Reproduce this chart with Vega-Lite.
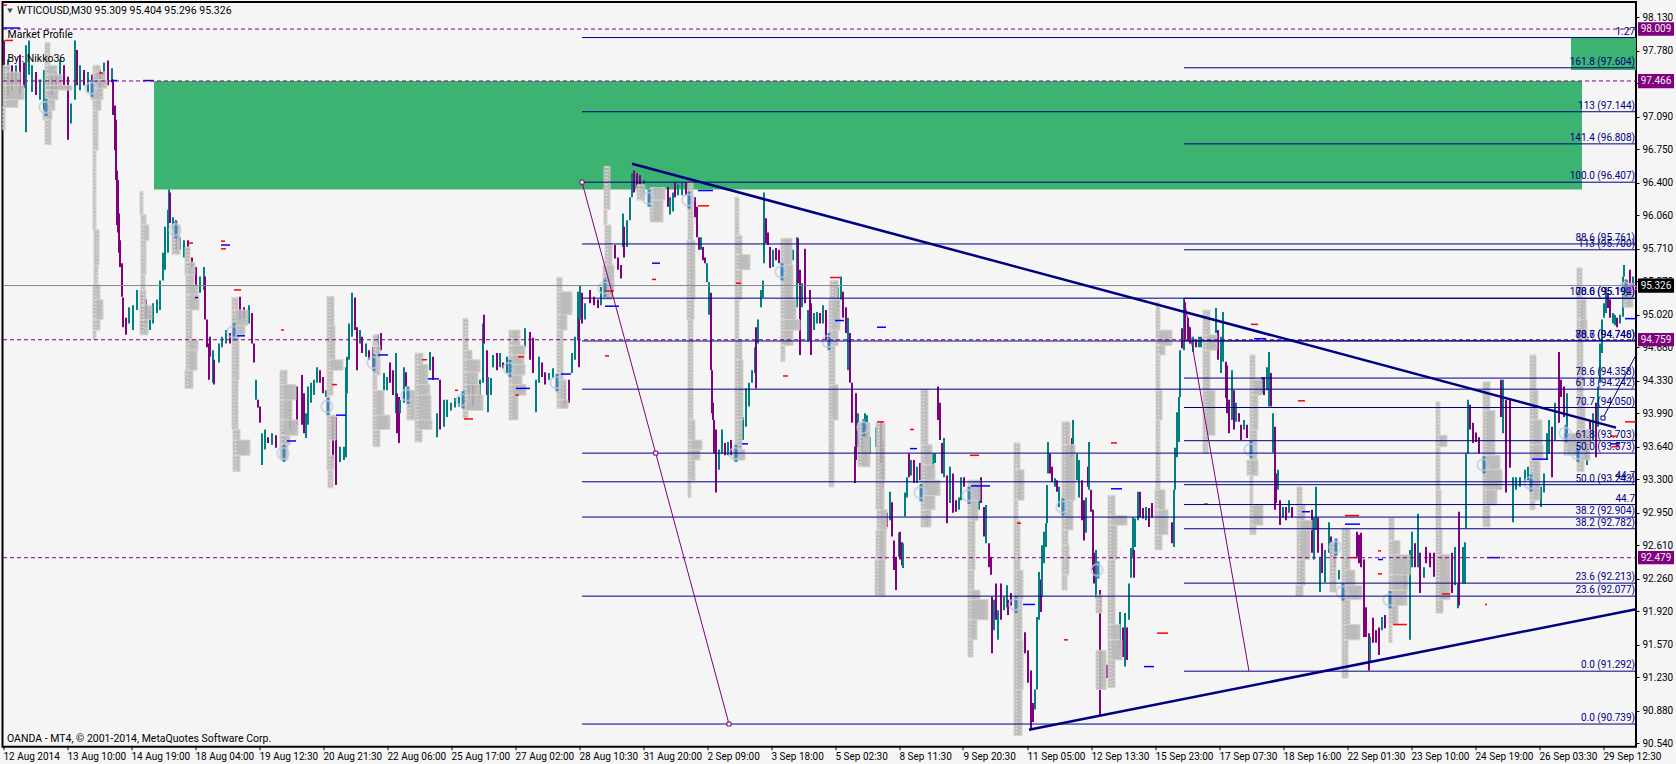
{"$schema":"https://vega.github.io/schema/vega-lite/v6.json","width":1633.5,"height":744.7,"autosize":{"type":"none"},"padding":{"left":2.5,"top":2,"right":40,"bottom":17.3},"background":"#f5f5f5","view":{"stroke":"#000000","strokeWidth":2,"fill":"#f5f5f5"},
"datasets":{
"zones":[{"x":154,"x2":1582,"p":97.466,"p2":96.33},{"x":1571,"x2":1636,"p":97.918,"p2":97.58}],
"candles":[{"x":4,"p":97.89,"p2":97.48,"d":"P"},{"x":8,"p":97.69,"p2":97.32,"d":"T"},{"x":12,"p":97.63,"p2":97.37,"d":"P"},{"x":16,"p":97.63,"p2":97.42,"d":"T"},{"x":20,"p":97.74,"p2":97.32,"d":"P"},{"x":24,"p":97.66,"p2":97.39,"d":"P"},{"x":26,"p":97.84,"p2":96.93,"d":"T"},{"x":29,"p":97.89,"p2":97.53,"d":"T"},{"x":32,"p":97.63,"p2":97.35,"d":"T"},{"x":36,"p":97.56,"p2":97.32,"d":"P"},{"x":40,"p":97.48,"p2":97.27,"d":"T"},{"x":44,"p":97.58,"p2":97.16,"d":"T"},{"x":48,"p":97.58,"p2":97.32,"d":"T"},{"x":52,"p":97.53,"p2":97.32,"d":"P"},{"x":56,"p":97.56,"p2":97.37,"d":"P"},{"x":60,"p":97.69,"p2":97.42,"d":"T"},{"x":64,"p":97.63,"p2":97.42,"d":"P"},{"x":68,"p":97.51,"p2":96.85,"d":"P"},{"x":71,"p":97.23,"p2":97.02,"d":"T"},{"x":75,"p":97.89,"p2":97.27,"d":"T"},{"x":77,"p":97.79,"p2":97.42,"d":"P"},{"x":80,"p":97.63,"p2":97.37,"d":"T"},{"x":84,"p":97.58,"p2":97.42,"d":"P"},{"x":88,"p":97.56,"p2":97.35,"d":"T"},{"x":92,"p":97.53,"p2":97.32,"d":"P"},{"x":96,"p":97.56,"p2":97.42,"d":"T"},{"x":100,"p":97.58,"p2":97.37,"d":"P"},{"x":104,"p":97.66,"p2":97.45,"d":"T"},{"x":108,"p":97.68,"p2":97.42,"d":"P"},{"x":112,"p":97.6,"p2":97.45,"d":"T"},{"x":113,"p":97.48,"p2":97.11,"d":"P"},{"x":115,"p":97.21,"p2":96.74,"d":"P"},{"x":116,"p":97.06,"p2":96.43,"d":"P"},{"x":117,"p":96.53,"p2":95.96,"d":"P"},{"x":118,"p":96.43,"p2":95.88,"d":"P"},{"x":119,"p":96.08,"p2":95.67,"d":"P"},{"x":120,"p":95.8,"p2":95.52,"d":"P"},{"x":122,"p":95.56,"p2":95.21,"d":"P"},{"x":123,"p":95.2,"p2":94.89,"d":"P"},{"x":126,"p":94.99,"p2":94.81,"d":"P"},{"x":129,"p":95.1,"p2":94.93,"d":"T"},{"x":133,"p":95.12,"p2":94.86,"d":"T"},{"x":137,"p":95.28,"p2":95.07,"d":"T"},{"x":142,"p":95.23,"p2":94.86,"d":"P"},{"x":146,"p":95.18,"p2":94.91,"d":"P"},{"x":150,"p":95.07,"p2":94.86,"d":"T"},{"x":153,"p":95.14,"p2":94.93,"d":"T"},{"x":157,"p":95.18,"p2":95.04,"d":"T"},{"x":160,"p":95.38,"p2":95.07,"d":"T"},{"x":163,"p":95.67,"p2":95.38,"d":"T"},{"x":165,"p":95.94,"p2":95.49,"d":"T"},{"x":168,"p":96.12,"p2":95.67,"d":"T"},{"x":169,"p":96.33,"p2":96.01,"d":"T"},{"x":170,"p":96.3,"p2":95.98,"d":"P"},{"x":173,"p":96.04,"p2":95.91,"d":"T"},{"x":176,"p":96.01,"p2":95.7,"d":"P"},{"x":180,"p":95.83,"p2":95.7,"d":"T"},{"x":184,"p":95.8,"p2":95.62,"d":"T"},{"x":188,"p":95.8,"p2":95.54,"d":"P"},{"x":192,"p":95.62,"p2":95.52,"d":"P"},{"x":196,"p":95.52,"p2":95.31,"d":"P"},{"x":200,"p":95.42,"p2":95.25,"d":"T"},{"x":204,"p":95.52,"p2":95.28,"d":"T"},{"x":205,"p":95.42,"p2":94.97,"d":"P"},{"x":207,"p":94.97,"p2":94.68,"d":"P"},{"x":209,"p":94.72,"p2":94.34,"d":"P"},{"x":210,"p":94.79,"p2":94.58,"d":"P"},{"x":213,"p":94.65,"p2":94.31,"d":"T"},{"x":214,"p":94.55,"p2":94.29,"d":"P"},{"x":219,"p":94.72,"p2":94.52,"d":"T"},{"x":222,"p":94.79,"p2":94.68,"d":"T"},{"x":226,"p":94.86,"p2":94.72,"d":"T"},{"x":230,"p":94.83,"p2":94.72,"d":"P"},{"x":234,"p":94.99,"p2":94.79,"d":"T"},{"x":240,"p":95.21,"p2":94.97,"d":"P"},{"x":244,"p":95.1,"p2":94.99,"d":"P"},{"x":249,"p":95.12,"p2":94.93,"d":"T"},{"x":252,"p":95.04,"p2":94.72,"d":"P"},{"x":254,"p":94.72,"p2":94.52,"d":"P"},{"x":256,"p":94.34,"p2":94.13,"d":"T"},{"x":258,"p":94.13,"p2":94.05,"d":"P"},{"x":260,"p":94.06,"p2":93.89,"d":"P"},{"x":262,"p":93.78,"p2":93.45,"d":"T"},{"x":265,"p":93.82,"p2":93.61,"d":"T"},{"x":268,"p":93.74,"p2":93.68,"d":"P"},{"x":272,"p":93.78,"p2":93.66,"d":"T"},{"x":276,"p":93.76,"p2":93.63,"d":"P"},{"x":283,"p":93.82,"p2":93.61,"d":"T"},{"x":290,"p":94.13,"p2":93.82,"d":"T"},{"x":297,"p":94.27,"p2":93.87,"d":"P"},{"x":302,"p":94.39,"p2":93.87,"d":"P"},{"x":304,"p":94.2,"p2":93.78,"d":"P"},{"x":306,"p":93.99,"p2":93.73,"d":"T"},{"x":308,"p":94.27,"p2":93.87,"d":"T"},{"x":311,"p":94.31,"p2":94.1,"d":"T"},{"x":314,"p":94.34,"p2":94.18,"d":"T"},{"x":317,"p":94.47,"p2":94.31,"d":"T"},{"x":320,"p":94.44,"p2":94.31,"d":"P"},{"x":323,"p":94.37,"p2":94.2,"d":"P"},{"x":326,"p":94.23,"p2":94.16,"d":"T"},{"x":333,"p":93.95,"p2":93.5,"d":"P"},{"x":336,"p":93.95,"p2":93.24,"d":"P"},{"x":340,"p":93.64,"p2":93.48,"d":"T"},{"x":344,"p":93.64,"p2":93.5,"d":"T"},{"x":346,"p":94.47,"p2":93.53,"d":"T"},{"x":347,"p":94.58,"p2":94.2,"d":"T"},{"x":349,"p":94.93,"p2":94.55,"d":"T"},{"x":352,"p":95.25,"p2":94.79,"d":"T"},{"x":355,"p":95.2,"p2":94.86,"d":"P"},{"x":357,"p":94.89,"p2":94.44,"d":"P"},{"x":360,"p":94.86,"p2":94.72,"d":"T"},{"x":362,"p":94.79,"p2":94.62,"d":"P"},{"x":366,"p":94.72,"p2":94.58,"d":"T"},{"x":369,"p":94.65,"p2":94.55,"d":"P"},{"x":373,"p":94.68,"p2":94.47,"d":"P"},{"x":378,"p":94.81,"p2":94.58,"d":"T"},{"x":381,"p":94.83,"p2":94.65,"d":"P"},{"x":384,"p":94.41,"p2":94.23,"d":"T"},{"x":387,"p":94.37,"p2":94.23,"d":"T"},{"x":390,"p":94.52,"p2":94.31,"d":"P"},{"x":393,"p":94.44,"p2":94.18,"d":"P"},{"x":396,"p":94.62,"p2":93.99,"d":"T"},{"x":397,"p":94.2,"p2":93.78,"d":"P"},{"x":399,"p":94.16,"p2":93.68,"d":"P"},{"x":400,"p":94.13,"p2":93.99,"d":"T"},{"x":404,"p":94.47,"p2":94.1,"d":"T"},{"x":406,"p":94.42,"p2":94.27,"d":"P"},{"x":409,"p":94.16,"p2":94.06,"d":"T"},{"x":430,"p":94.63,"p2":94.44,"d":"T"},{"x":433,"p":94.58,"p2":94.34,"d":"P"},{"x":437,"p":93.99,"p2":93.74,"d":"T"},{"x":440,"p":94.34,"p2":93.82,"d":"P"},{"x":444,"p":94.13,"p2":93.85,"d":"T"},{"x":447,"p":94.13,"p2":93.95,"d":"T"},{"x":451,"p":94.1,"p2":94.02,"d":"T"},{"x":455,"p":94.15,"p2":94.05,"d":"T"},{"x":459,"p":94.16,"p2":94.06,"d":"T"},{"x":464,"p":94.23,"p2":94.1,"d":"T"},{"x":469,"p":94.31,"p2":94.16,"d":"T"},{"x":473,"p":94.29,"p2":94.06,"d":"P"},{"x":480,"p":94.34,"p2":94.16,"d":"T"},{"x":483,"p":94.93,"p2":94.31,"d":"T"},{"x":484,"p":95.02,"p2":94.72,"d":"P"},{"x":487,"p":94.65,"p2":94.18,"d":"P"},{"x":488,"p":94.37,"p2":94.0,"d":"T"},{"x":491,"p":94.36,"p2":94.18,"d":"T"},{"x":493,"p":94.6,"p2":94.47,"d":"T"},{"x":497,"p":94.62,"p2":94.44,"d":"P"},{"x":500,"p":94.62,"p2":94.47,"d":"T"},{"x":503,"p":94.52,"p2":94.46,"d":"P"},{"x":507,"p":94.58,"p2":94.41,"d":"T"},{"x":525,"p":94.88,"p2":94.68,"d":"T"},{"x":530,"p":94.84,"p2":94.55,"d":"P"},{"x":533,"p":94.78,"p2":94.41,"d":"P"},{"x":536,"p":94.34,"p2":94.0,"d":"T"},{"x":539,"p":94.58,"p2":94.31,"d":"T"},{"x":542,"p":94.52,"p2":94.37,"d":"P"},{"x":545,"p":94.42,"p2":94.29,"d":"P"},{"x":549,"p":94.41,"p2":94.34,"d":"T"},{"x":553,"p":94.46,"p2":94.36,"d":"T"},{"x":565,"p":94.31,"p2":94.08,"d":"P"},{"x":569,"p":94.34,"p2":94.1,"d":"P"},{"x":572,"p":94.62,"p2":94.41,"d":"T"},{"x":575,"p":94.79,"p2":94.55,"d":"T"},{"x":578,"p":95.26,"p2":94.76,"d":"T"},{"x":579,"p":94.99,"p2":94.47,"d":"P"},{"x":580,"p":95.33,"p2":94.97,"d":"T"},{"x":582,"p":95.25,"p2":94.93,"d":"P"},{"x":585,"p":95.14,"p2":94.97,"d":"T"},{"x":590,"p":95.28,"p2":95.14,"d":"P"},{"x":594,"p":95.21,"p2":95.12,"d":"P"},{"x":598,"p":95.18,"p2":95.09,"d":"P"},{"x":601,"p":95.31,"p2":95.12,"d":"T"},{"x":606,"p":95.42,"p2":95.28,"d":"T"},{"x":612,"p":95.33,"p2":95.21,"d":"P"},{"x":615,"p":95.75,"p2":95.61,"d":"P"},{"x":618,"p":95.62,"p2":95.49,"d":"P"},{"x":621,"p":95.54,"p2":95.4,"d":"P"},{"x":623,"p":96.08,"p2":95.73,"d":"T"},{"x":624,"p":95.94,"p2":95.62,"d":"P"},{"x":627,"p":96.01,"p2":95.73,"d":"T"},{"x":630,"p":96.25,"p2":96.01,"d":"T"},{"x":632,"p":96.5,"p2":96.25,"d":"T"},{"x":634,"p":96.53,"p2":96.3,"d":"P"},{"x":637,"p":96.5,"p2":96.36,"d":"P"},{"x":640,"p":96.48,"p2":96.33,"d":"P"},{"x":644,"p":96.43,"p2":96.27,"d":"T"},{"x":668,"p":96.36,"p2":96.15,"d":"P"},{"x":670,"p":96.25,"p2":96.07,"d":"T"},{"x":673,"p":96.3,"p2":96.1,"d":"T"},{"x":675,"p":96.4,"p2":96.25,"d":"P"},{"x":678,"p":96.38,"p2":96.27,"d":"T"},{"x":682,"p":96.4,"p2":96.27,"d":"T"},{"x":686,"p":96.4,"p2":96.27,"d":"P"},{"x":695,"p":96.25,"p2":96.04,"d":"P"},{"x":697,"p":96.15,"p2":95.83,"d":"P"},{"x":699,"p":95.83,"p2":95.7,"d":"P"},{"x":701,"p":95.83,"p2":95.7,"d":"T"},{"x":703,"p":95.73,"p2":95.59,"d":"P"},{"x":705,"p":95.62,"p2":95.56,"d":"P"},{"x":707,"p":95.56,"p2":95.36,"d":"T"},{"x":709,"p":95.36,"p2":95.02,"d":"T"},{"x":711,"p":95.25,"p2":94.44,"d":"P"},{"x":712,"p":94.44,"p2":93.99,"d":"P"},{"x":713,"p":94.1,"p2":93.92,"d":"P"},{"x":714,"p":93.92,"p2":93.57,"d":"P"},{"x":716,"p":93.82,"p2":93.16,"d":"P"},{"x":719,"p":93.61,"p2":93.4,"d":"T"},{"x":722,"p":93.82,"p2":93.57,"d":"T"},{"x":725,"p":93.68,"p2":93.55,"d":"P"},{"x":728,"p":93.69,"p2":93.55,"d":"T"},{"x":731,"p":93.71,"p2":93.55,"d":"P"},{"x":740,"p":93.79,"p2":93.61,"d":"T"},{"x":743,"p":93.95,"p2":93.71,"d":"T"},{"x":746,"p":94.25,"p2":93.85,"d":"T"},{"x":749,"p":94.31,"p2":94.06,"d":"T"},{"x":752,"p":94.44,"p2":94.31,"d":"T"},{"x":755,"p":94.68,"p2":94.41,"d":"T"},{"x":756,"p":94.89,"p2":94.25,"d":"P"},{"x":758,"p":94.97,"p2":94.72,"d":"T"},{"x":761,"p":95.28,"p2":95.1,"d":"T"},{"x":763,"p":95.38,"p2":95.2,"d":"T"},{"x":764,"p":96.3,"p2":95.56,"d":"T"},{"x":766,"p":96.03,"p2":95.77,"d":"P"},{"x":768,"p":95.88,"p2":95.75,"d":"P"},{"x":770,"p":95.73,"p2":95.51,"d":"P"},{"x":773,"p":95.7,"p2":95.52,"d":"T"},{"x":776,"p":95.72,"p2":95.59,"d":"P"},{"x":779,"p":95.7,"p2":95.56,"d":"P"},{"x":793,"p":95.7,"p2":95.59,"d":"T"},{"x":797,"p":95.83,"p2":95.1,"d":"T"},{"x":798,"p":95.82,"p2":95.35,"d":"P"},{"x":800,"p":95.49,"p2":94.6,"d":"P"},{"x":802,"p":95.35,"p2":95.1,"d":"T"},{"x":805,"p":95.71,"p2":95.14,"d":"P"},{"x":808,"p":95.07,"p2":94.74,"d":"T"},{"x":810,"p":95.28,"p2":94.76,"d":"P"},{"x":811,"p":95.14,"p2":94.6,"d":"P"},{"x":814,"p":95.04,"p2":94.86,"d":"T"},{"x":817,"p":95.05,"p2":94.93,"d":"T"},{"x":820,"p":95.04,"p2":94.93,"d":"P"},{"x":823,"p":95.12,"p2":94.93,"d":"T"},{"x":826,"p":95.07,"p2":94.76,"d":"P"},{"x":838,"p":95.31,"p2":95.04,"d":"T"},{"x":841,"p":95.42,"p2":95.18,"d":"T"},{"x":843,"p":95.26,"p2":94.99,"d":"P"},{"x":846,"p":95.1,"p2":94.83,"d":"P"},{"x":848,"p":94.99,"p2":94.44,"d":"T"},{"x":850,"p":94.83,"p2":94.31,"d":"P"},{"x":852,"p":94.31,"p2":93.89,"d":"P"},{"x":855,"p":93.64,"p2":93.26,"d":"P"},{"x":856,"p":94.2,"p2":93.5,"d":"P"},{"x":858,"p":93.99,"p2":93.64,"d":"T"},{"x":862,"p":93.89,"p2":93.57,"d":"T"},{"x":865,"p":93.99,"p2":93.82,"d":"T"},{"x":867,"p":93.97,"p2":93.74,"d":"T"},{"x":870,"p":93.74,"p2":93.57,"d":"T"},{"x":876,"p":93.84,"p2":93.64,"d":"T"},{"x":881,"p":93.9,"p2":93.47,"d":"P"},{"x":883,"p":93.69,"p2":93.22,"d":"P"},{"x":887,"p":92.95,"p2":92.8,"d":"P"},{"x":890,"p":93.17,"p2":92.87,"d":"T"},{"x":892,"p":93.06,"p2":92.7,"d":"P"},{"x":894,"p":92.66,"p2":92.35,"d":"P"},{"x":896,"p":92.49,"p2":92.14,"d":"P"},{"x":899,"p":92.74,"p2":92.49,"d":"T"},{"x":900,"p":92.75,"p2":92.46,"d":"P"},{"x":902,"p":92.64,"p2":92.4,"d":"P"},{"x":903,"p":92.63,"p2":92.37,"d":"T"},{"x":905,"p":93.16,"p2":92.91,"d":"T"},{"x":907,"p":93.32,"p2":93.11,"d":"T"},{"x":909,"p":93.57,"p2":93.32,"d":"P"},{"x":911,"p":93.5,"p2":93.34,"d":"T"},{"x":914,"p":93.5,"p2":93.26,"d":"P"},{"x":917,"p":93.43,"p2":93.26,"d":"T"},{"x":920,"p":93.47,"p2":93.29,"d":"P"},{"x":933,"p":93.57,"p2":93.43,"d":"T"},{"x":935,"p":93.57,"p2":93.47,"d":"T"},{"x":938,"p":94.27,"p2":93.92,"d":"P"},{"x":940,"p":94.1,"p2":93.71,"d":"P"},{"x":942,"p":93.68,"p2":93.36,"d":"P"},{"x":944,"p":93.73,"p2":93.32,"d":"T"},{"x":947,"p":93.34,"p2":92.84,"d":"P"},{"x":950,"p":93.43,"p2":93.05,"d":"T"},{"x":953,"p":93.36,"p2":92.95,"d":"P"},{"x":956,"p":93.08,"p2":92.96,"d":"P"},{"x":959,"p":93.11,"p2":92.98,"d":"T"},{"x":961,"p":93.32,"p2":93.08,"d":"T"},{"x":964,"p":93.32,"p2":93.22,"d":"P"},{"x":979,"p":93.22,"p2":92.98,"d":"T"},{"x":981,"p":93.32,"p2":93.05,"d":"P"},{"x":984,"p":93.01,"p2":92.7,"d":"P"},{"x":986,"p":93.03,"p2":92.63,"d":"T"},{"x":989,"p":92.63,"p2":92.38,"d":"P"},{"x":991,"p":92.49,"p2":92.3,"d":"P"},{"x":992,"p":92.07,"p2":91.48,"d":"P"},{"x":994,"p":92.04,"p2":91.72,"d":"T"},{"x":996,"p":92.21,"p2":91.83,"d":"P"},{"x":998,"p":91.93,"p2":91.62,"d":"T"},{"x":1001,"p":92.21,"p2":91.83,"d":"P"},{"x":1004,"p":92.07,"p2":91.93,"d":"T"},{"x":1007,"p":92.19,"p2":91.96,"d":"T"},{"x":1008,"p":92.04,"p2":91.88,"d":"P"},{"x":1011,"p":92.11,"p2":91.98,"d":"P"},{"x":1025,"p":91.7,"p2":91.48,"d":"P"},{"x":1028,"p":91.51,"p2":91.17,"d":"P"},{"x":1031,"p":91.3,"p2":90.68,"d":"P"},{"x":1033,"p":90.96,"p2":90.76,"d":"P"},{"x":1035,"p":91.1,"p2":90.89,"d":"T"},{"x":1037,"p":91.86,"p2":91.1,"d":"T"},{"x":1039,"p":92.33,"p2":91.83,"d":"T"},{"x":1041,"p":92.25,"p2":91.91,"d":"P"},{"x":1042,"p":92.61,"p2":92.07,"d":"T"},{"x":1044,"p":92.75,"p2":92.42,"d":"T"},{"x":1046,"p":92.84,"p2":92.59,"d":"T"},{"x":1047,"p":93.24,"p2":92.84,"d":"T"},{"x":1048,"p":93.69,"p2":93.36,"d":"T"},{"x":1050,"p":93.57,"p2":93.36,"d":"P"},{"x":1052,"p":93.43,"p2":93.27,"d":"P"},{"x":1055,"p":93.31,"p2":93.22,"d":"T"},{"x":1057,"p":93.29,"p2":93.17,"d":"P"},{"x":1059,"p":93.22,"p2":93.01,"d":"T"},{"x":1072,"p":93.73,"p2":93.53,"d":"P"},{"x":1073,"p":93.92,"p2":93.57,"d":"T"},{"x":1077,"p":93.57,"p2":93.29,"d":"T"},{"x":1079,"p":93.5,"p2":93.11,"d":"T"},{"x":1082,"p":93.29,"p2":92.87,"d":"P"},{"x":1084,"p":93.08,"p2":92.66,"d":"P"},{"x":1086,"p":93.11,"p2":92.74,"d":"T"},{"x":1088,"p":93.43,"p2":93.22,"d":"P"},{"x":1089,"p":93.69,"p2":93.19,"d":"T"},{"x":1091,"p":93.19,"p2":92.96,"d":"P"},{"x":1093,"p":92.98,"p2":92.35,"d":"P"},{"x":1094,"p":92.53,"p2":92.21,"d":"P"},{"x":1096,"p":92.56,"p2":92.06,"d":"T"},{"x":1100,"p":92.14,"p2":90.83,"d":"P"},{"x":1107,"p":91.36,"p2":91.22,"d":"P"},{"x":1120,"p":91.91,"p2":91.51,"d":"T"},{"x":1123,"p":91.75,"p2":91.44,"d":"P"},{"x":1125,"p":91.9,"p2":91.34,"d":"T"},{"x":1127,"p":91.75,"p2":91.41,"d":"P"},{"x":1129,"p":92.21,"p2":91.83,"d":"T"},{"x":1131,"p":92.58,"p2":92.27,"d":"T"},{"x":1133,"p":92.9,"p2":92.49,"d":"T"},{"x":1134,"p":92.56,"p2":92.27,"d":"P"},{"x":1135,"p":92.89,"p2":92.59,"d":"T"},{"x":1138,"p":93.17,"p2":92.87,"d":"T"},{"x":1140,"p":93.17,"p2":92.9,"d":"P"},{"x":1143,"p":93.0,"p2":92.89,"d":"P"},{"x":1146,"p":93.01,"p2":92.87,"d":"T"},{"x":1149,"p":93.0,"p2":92.8,"d":"P"},{"x":1152,"p":93.05,"p2":92.9,"d":"P"},{"x":1172,"p":92.85,"p2":92.63,"d":"P"},{"x":1174,"p":93.19,"p2":92.59,"d":"T"},{"x":1175,"p":93.63,"p2":93.19,"d":"T"},{"x":1177,"p":94.0,"p2":93.53,"d":"T"},{"x":1179,"p":94.16,"p2":93.69,"d":"T"},{"x":1180,"p":94.65,"p2":94.16,"d":"T"},{"x":1182,"p":94.88,"p2":94.67,"d":"P"},{"x":1184,"p":95.19,"p2":94.65,"d":"T"},{"x":1185,"p":95.15,"p2":94.76,"d":"P"},{"x":1188,"p":94.99,"p2":94.76,"d":"P"},{"x":1190,"p":94.89,"p2":94.72,"d":"P"},{"x":1193,"p":94.79,"p2":94.63,"d":"T"},{"x":1196,"p":94.76,"p2":94.68,"d":"P"},{"x":1199,"p":94.79,"p2":94.68,"d":"T"},{"x":1201,"p":94.79,"p2":94.68,"d":"T"},{"x":1216,"p":95.09,"p2":94.83,"d":"T"},{"x":1218,"p":94.86,"p2":94.55,"d":"P"},{"x":1221,"p":94.79,"p2":94.41,"d":"T"},{"x":1223,"p":95.05,"p2":94.53,"d":"T"},{"x":1226,"p":94.53,"p2":94.15,"d":"P"},{"x":1227,"p":94.49,"p2":93.99,"d":"P"},{"x":1229,"p":94.13,"p2":93.78,"d":"P"},{"x":1232,"p":94.44,"p2":93.92,"d":"T"},{"x":1234,"p":94.23,"p2":93.82,"d":"P"},{"x":1236,"p":94.1,"p2":93.9,"d":"T"},{"x":1239,"p":93.99,"p2":93.9,"d":"P"},{"x":1241,"p":93.87,"p2":93.71,"d":"P"},{"x":1244,"p":93.92,"p2":93.82,"d":"T"},{"x":1247,"p":93.87,"p2":93.73,"d":"P"},{"x":1262,"p":94.37,"p2":94.2,"d":"T"},{"x":1264,"p":94.37,"p2":94.18,"d":"P"},{"x":1267,"p":94.47,"p2":94.23,"d":"T"},{"x":1269,"p":94.63,"p2":94.06,"d":"T"},{"x":1271,"p":94.41,"p2":94.06,"d":"P"},{"x":1273,"p":93.99,"p2":93.58,"d":"T"},{"x":1275,"p":93.85,"p2":92.98,"d":"P"},{"x":1276,"p":93.36,"p2":93.05,"d":"P"},{"x":1278,"p":93.4,"p2":93.19,"d":"T"},{"x":1280,"p":93.08,"p2":92.82,"d":"P"},{"x":1283,"p":93.01,"p2":92.9,"d":"T"},{"x":1286,"p":93.01,"p2":92.87,"d":"P"},{"x":1289,"p":93.08,"p2":92.95,"d":"T"},{"x":1292,"p":93.01,"p2":92.9,"d":"P"},{"x":1312,"p":92.98,"p2":92.53,"d":"P"},{"x":1314,"p":92.9,"p2":92.46,"d":"T"},{"x":1316,"p":93.22,"p2":92.77,"d":"T"},{"x":1318,"p":92.9,"p2":92.53,"d":"P"},{"x":1320,"p":92.49,"p2":92.12,"d":"T"},{"x":1322,"p":92.63,"p2":92.32,"d":"P"},{"x":1325,"p":92.56,"p2":92.22,"d":"T"},{"x":1329,"p":92.85,"p2":92.53,"d":"T"},{"x":1331,"p":92.7,"p2":92.49,"d":"P"},{"x":1335,"p":92.53,"p2":92.38,"d":"P"},{"x":1339,"p":92.35,"p2":92.25,"d":"T"},{"x":1357,"p":92.75,"p2":92.49,"d":"P"},{"x":1359,"p":92.72,"p2":92.42,"d":"P"},{"x":1361,"p":92.74,"p2":92.38,"d":"P"},{"x":1364,"p":92.46,"p2":91.65,"d":"P"},{"x":1366,"p":91.96,"p2":91.65,"d":"P"},{"x":1369,"p":91.69,"p2":91.3,"d":"P"},{"x":1370,"p":91.65,"p2":91.38,"d":"T"},{"x":1373,"p":91.85,"p2":91.59,"d":"P"},{"x":1376,"p":91.72,"p2":91.59,"d":"P"},{"x":1379,"p":91.75,"p2":91.46,"d":"P"},{"x":1382,"p":91.86,"p2":91.72,"d":"T"},{"x":1385,"p":91.88,"p2":91.74,"d":"P"},{"x":1405,"p":92.32,"p2":92.11,"d":"T"},{"x":1410,"p":92.56,"p2":91.62,"d":"T"},{"x":1412,"p":92.75,"p2":92.38,"d":"T"},{"x":1415,"p":92.63,"p2":92.38,"d":"P"},{"x":1418,"p":92.94,"p2":92.38,"d":"T"},{"x":1420,"p":92.53,"p2":92.11,"d":"P"},{"x":1424,"p":92.38,"p2":92.27,"d":"T"},{"x":1426,"p":92.59,"p2":92.42,"d":"P"},{"x":1430,"p":92.53,"p2":92.38,"d":"P"},{"x":1434,"p":92.53,"p2":92.28,"d":"P"},{"x":1452,"p":92.53,"p2":92.11,"d":"P"},{"x":1455,"p":92.59,"p2":92.19,"d":"T"},{"x":1458,"p":92.21,"p2":91.95,"d":"T"},{"x":1459,"p":92.96,"p2":91.98,"d":"P"},{"x":1463,"p":92.59,"p2":92.21,"d":"T"},{"x":1465,"p":92.64,"p2":92.21,"d":"T"},{"x":1466,"p":93.57,"p2":92.79,"d":"T"},{"x":1468,"p":94.13,"p2":93.57,"d":"T"},{"x":1470,"p":94.08,"p2":93.82,"d":"P"},{"x":1473,"p":93.89,"p2":93.68,"d":"P"},{"x":1476,"p":93.79,"p2":93.69,"d":"P"},{"x":1479,"p":93.74,"p2":93.57,"d":"P"},{"x":1501,"p":94.34,"p2":93.95,"d":"P"},{"x":1503,"p":94.34,"p2":93.78,"d":"T"},{"x":1506,"p":94.13,"p2":93.16,"d":"P"},{"x":1510,"p":94.13,"p2":93.42,"d":"P"},{"x":1513,"p":93.32,"p2":92.85,"d":"T"},{"x":1516,"p":93.32,"p2":93.19,"d":"T"},{"x":1520,"p":93.32,"p2":93.22,"d":"T"},{"x":1525,"p":93.4,"p2":93.27,"d":"T"},{"x":1528,"p":93.43,"p2":93.29,"d":"T"},{"x":1541,"p":93.22,"p2":93.01,"d":"T"},{"x":1544,"p":93.36,"p2":93.16,"d":"T"},{"x":1547,"p":93.78,"p2":93.5,"d":"T"},{"x":1549,"p":93.92,"p2":93.57,"d":"T"},{"x":1552,"p":93.85,"p2":93.32,"d":"P"},{"x":1555,"p":94.1,"p2":93.71,"d":"T"},{"x":1559,"p":94.63,"p2":93.89,"d":"P"},{"x":1561,"p":94.34,"p2":94.16,"d":"P"},{"x":1564,"p":94.27,"p2":93.95,"d":"P"},{"x":1567,"p":94.2,"p2":93.68,"d":"T"},{"x":1587,"p":93.68,"p2":93.45,"d":"T"},{"x":1590,"p":93.92,"p2":93.68,"d":"P"},{"x":1593,"p":93.99,"p2":93.71,"d":"T"},{"x":1596,"p":94.1,"p2":93.53,"d":"P"},{"x":1598,"p":94.27,"p2":93.85,"d":"T"},{"x":1600,"p":94.72,"p2":94.31,"d":"T"},{"x":1602,"p":94.97,"p2":94.62,"d":"T"},{"x":1604,"p":95.14,"p2":94.99,"d":"T"},{"x":1606,"p":95.31,"p2":95.04,"d":"T"},{"x":1608,"p":95.25,"p2":95.09,"d":"P"},{"x":1610,"p":95.18,"p2":94.99,"d":"P"},{"x":1613,"p":95.04,"p2":94.93,"d":"T"},{"x":1615,"p":95.02,"p2":94.91,"d":"T"},{"x":1617,"p":94.99,"p2":94.89,"d":"P"},{"x":1620,"p":95.02,"p2":94.93,"d":"T"},{"x":1623,"p":95.42,"p2":95.0,"d":"T"},{"x":1624,"p":95.54,"p2":95.42,"d":"T"},{"x":1627,"p":95.38,"p2":95.25,"d":"P"},{"x":1630,"p":95.49,"p2":95.21,"d":"P"},{"x":1633,"p":95.42,"p2":95.28,"d":"T"}],
"profile":[{"x":3,"x2":10,"p":97.63,"p2":97.56},{"x":3,"x2":20,"p":97.56,"p2":97.42},{"x":3,"x2":24,"p":97.42,"p2":97.27},{"x":3,"x2":18,"p":97.27,"p2":97.19},{"x":3,"x2":5,"p":97.19,"p2":96.95},
{"x":45,"x2":50,"p":97.87,"p2":97.63},{"x":45,"x2":57,"p":97.63,"p2":97.53},{"x":45,"x2":62,"p":97.53,"p2":97.42},{"x":45,"x2":72,"p":97.42,"p2":97.37},{"x":45,"x2":58,"p":97.37,"p2":97.27},{"x":45,"x2":55,"p":97.27,"p2":97.16},{"x":43,"x2":52,"p":97.16,"p2":97.06},{"x":45,"x2":51,"p":97.06,"p2":96.8},
{"x":93,"x2":100,"p":97.63,"p2":97.56},{"x":93,"x2":105,"p":97.56,"p2":97.48},{"x":93,"x2":107,"p":97.48,"p2":97.39},{"x":91,"x2":103,"p":97.39,"p2":97.27},{"x":93,"x2":101,"p":97.27,"p2":97.16},{"x":93,"x2":98,"p":97.16,"p2":96.74},{"x":93,"x2":96,"p":96.74,"p2":95.91},{"x":94,"x2":99,"p":95.91,"p2":95.54},{"x":94,"x2":98,"p":95.54,"p2":95.33},{"x":93,"x2":100,"p":95.33,"p2":95.18},{"x":93,"x2":103,"p":95.18,"p2":94.97},{"x":93,"x2":100,"p":94.97,"p2":94.86},{"x":93,"x2":96,"p":94.86,"p2":94.76},
{"x":140,"x2":143,"p":96.31,"p2":96.07},{"x":141,"x2":146,"p":96.07,"p2":95.96},{"x":141,"x2":149,"p":95.96,"p2":95.8},{"x":141,"x2":146,"p":95.8,"p2":95.44},{"x":141,"x2":145,"p":95.44,"p2":95.28},{"x":140,"x2":146,"p":95.28,"p2":95.12},{"x":140,"x2":152,"p":95.12,"p2":94.97},{"x":140,"x2":148,"p":94.97,"p2":94.81},
{"x":172,"x2":180,"p":95.96,"p2":95.65},
{"x":185,"x2":190,"p":95.73,"p2":95.57},{"x":185,"x2":195,"p":95.57,"p2":95.44},{"x":186,"x2":194,"p":95.44,"p2":95.33},{"x":186,"x2":198,"p":95.33,"p2":95.23},{"x":186,"x2":199,"p":95.23,"p2":95.07},{"x":186,"x2":192,"p":95.07,"p2":94.76},{"x":186,"x2":198,"p":94.76,"p2":94.65},{"x":186,"x2":197,"p":94.65,"p2":94.44},{"x":185,"x2":193,"p":94.44,"p2":94.25},
{"x":232,"x2":238,"p":95.2,"p2":95.07},{"x":232,"x2":248,"p":95.07,"p2":94.91},{"x":232,"x2":245,"p":94.91,"p2":94.81},{"x":232,"x2":239,"p":94.81,"p2":94.34},{"x":232,"x2":238,"p":94.34,"p2":93.82},{"x":233,"x2":240,"p":93.82,"p2":93.71},{"x":233,"x2":250,"p":93.71,"p2":93.55},{"x":233,"x2":240,"p":93.55,"p2":93.38},
{"x":280,"x2":287,"p":94.44,"p2":94.29},{"x":280,"x2":296,"p":94.29,"p2":94.13},{"x":280,"x2":292,"p":94.13,"p2":93.92},{"x":280,"x2":298,"p":93.92,"p2":93.76},{"x":280,"x2":290,"p":93.76,"p2":93.66},{"x":280,"x2":288,"p":93.66,"p2":93.5},
{"x":327,"x2":334,"p":95.21,"p2":94.91},{"x":327,"x2":335,"p":94.91,"p2":94.55},{"x":327,"x2":343,"p":94.55,"p2":94.44},{"x":327,"x2":333,"p":94.44,"p2":94.18},{"x":327,"x2":330,"p":94.18,"p2":93.97},{"x":327,"x2":336,"p":93.97,"p2":93.71},{"x":327,"x2":330,"p":93.71,"p2":93.55},{"x":327,"x2":334,"p":93.55,"p2":93.4},{"x":328,"x2":333,"p":93.4,"p2":93.21},
{"x":373,"x2":378,"p":94.81,"p2":94.7},{"x":373,"x2":380,"p":94.7,"p2":94.39},{"x":373,"x2":377,"p":94.39,"p2":94.23},{"x":373,"x2":384,"p":94.23,"p2":93.97},{"x":373,"x2":390,"p":93.97,"p2":93.82},{"x":373,"x2":380,"p":93.82,"p2":93.64},
{"x":415,"x2":423,"p":94.62,"p2":94.5},{"x":415,"x2":428,"p":94.5,"p2":94.29},{"x":415,"x2":430,"p":94.29,"p2":94.18},{"x":415,"x2":431,"p":94.18,"p2":93.92},{"x":415,"x2":432,"p":93.92,"p2":93.82},{"x":415,"x2":422,"p":93.82,"p2":93.69},{"x":407,"x2":415,"p":94.23,"p2":93.92},
{"x":463,"x2":468,"p":94.98,"p2":94.65},{"x":463,"x2":472,"p":94.65,"p2":94.55},{"x":463,"x2":480,"p":94.55,"p2":94.42},{"x":463,"x2":478,"p":94.42,"p2":94.29},{"x":463,"x2":480,"p":94.29,"p2":94.18},{"x":463,"x2":483,"p":94.18,"p2":94.02},{"x":463,"x2":468,"p":94.02,"p2":93.94},
{"x":509,"x2":520,"p":94.86,"p2":94.7},{"x":509,"x2":525,"p":94.7,"p2":94.6},{"x":509,"x2":524,"p":94.6,"p2":94.5},{"x":509,"x2":525,"p":94.5,"p2":94.39},{"x":509,"x2":522,"p":94.39,"p2":94.29},{"x":509,"x2":526,"p":94.29,"p2":94.18},{"x":509,"x2":518,"p":94.18,"p2":93.92},
{"x":557,"x2":562,"p":95.41,"p2":95.26},{"x":557,"x2":572,"p":95.26,"p2":95.02},{"x":557,"x2":567,"p":95.02,"p2":94.86},{"x":557,"x2":563,"p":94.86,"p2":94.34},{"x":557,"x2":566,"p":94.34,"p2":94.13},{"x":557,"x2":568,"p":94.13,"p2":94.04},
{"x":604,"x2":610,"p":96.57,"p2":96.12},{"x":604,"x2":607,"p":96.12,"p2":95.96},{"x":605,"x2":611,"p":95.96,"p2":95.75},{"x":605,"x2":612,"p":95.75,"p2":95.54},{"x":603,"x2":614,"p":95.54,"p2":95.28},{"x":603,"x2":612,"p":95.28,"p2":95.18},
{"x":650,"x2":665,"p":96.35,"p2":96.22},{"x":650,"x2":663,"p":96.22,"p2":95.99},{"x":637,"x2":645,"p":96.38,"p2":96.22},
{"x":688,"x2":693,"p":96.4,"p2":95.8},{"x":687,"x2":695,"p":95.8,"p2":95.18},{"x":687,"x2":694,"p":95.18,"p2":94.97},{"x":688,"x2":693,"p":94.97,"p2":93.92},{"x":688,"x2":695,"p":93.92,"p2":93.71},{"x":688,"x2":702,"p":93.71,"p2":93.61},{"x":688,"x2":700,"p":93.61,"p2":93.5},{"x":688,"x2":695,"p":93.5,"p2":93.29},{"x":688,"x2":691,"p":93.29,"p2":93.11},
{"x":735,"x2":739,"p":96.25,"p2":95.85},{"x":735,"x2":742,"p":95.85,"p2":95.65},{"x":735,"x2":750,"p":95.65,"p2":95.49},{"x":735,"x2":742,"p":95.49,"p2":95.18},{"x":735,"x2":739,"p":95.18,"p2":94.76},{"x":735,"x2":742,"p":94.76,"p2":94.55},{"x":735,"x2":743,"p":94.55,"p2":93.92},{"x":735,"x2":742,"p":93.92,"p2":93.61},{"x":733,"x2":745,"p":93.61,"p2":93.5},
{"x":781,"x2":792,"p":95.82,"p2":95.54},{"x":781,"x2":793,"p":95.54,"p2":95.18},{"x":781,"x2":796,"p":95.18,"p2":94.97},{"x":781,"x2":800,"p":94.97,"p2":94.86},{"x":781,"x2":793,"p":94.86,"p2":94.7},{"x":781,"x2":785,"p":94.7,"p2":94.53},
{"x":830,"x2":838,"p":95.38,"p2":95.18},{"x":829,"x2":840,"p":95.18,"p2":94.86},{"x":829,"x2":838,"p":94.86,"p2":94.7},{"x":829,"x2":835,"p":94.7,"p2":94.29},{"x":829,"x2":838,"p":94.29,"p2":93.92},{"x":829,"x2":834,"p":93.92,"p2":93.22},
{"x":858,"x2":870,"p":93.89,"p2":93.43},
{"x":876,"x2":885,"p":93.89,"p2":93.29},{"x":876,"x2":884,"p":93.29,"p2":92.98},{"x":877,"x2":887,"p":92.98,"p2":92.77},{"x":876,"x2":886,"p":92.77,"p2":92.46},{"x":875,"x2":885,"p":92.46,"p2":92.08},
{"x":921,"x2":928,"p":94.24,"p2":93.66},{"x":921,"x2":932,"p":93.66,"p2":93.45},{"x":921,"x2":935,"p":93.45,"p2":93.29},{"x":921,"x2":940,"p":93.29,"p2":93.13},{"x":921,"x2":935,"p":93.13,"p2":92.98},{"x":921,"x2":931,"p":92.98,"p2":92.8},
{"x":968,"x2":980,"p":93.29,"p2":93.08},{"x":968,"x2":978,"p":93.08,"p2":92.87},{"x":968,"x2":975,"p":92.87,"p2":92.35},{"x":968,"x2":974,"p":92.35,"p2":92.14},{"x":968,"x2":980,"p":92.14,"p2":92.04},{"x":968,"x2":988,"p":92.04,"p2":91.83},{"x":968,"x2":977,"p":91.83,"p2":91.62},{"x":968,"x2":973,"p":91.62,"p2":91.44},
{"x":1014,"x2":1020,"p":93.68,"p2":93.4},{"x":1014,"x2":1024,"p":93.4,"p2":93.08},{"x":1014,"x2":1018,"p":93.08,"p2":92.87},{"x":1014,"x2":1020,"p":92.87,"p2":92.35},{"x":1014,"x2":1023,"p":92.35,"p2":92.04},{"x":1014,"x2":1022,"p":92.04,"p2":91.62},{"x":1014,"x2":1023,"p":91.62,"p2":91.1},{"x":1014,"x2":1022,"p":91.1,"p2":90.62},
{"x":1062,"x2":1070,"p":93.9,"p2":93.66},{"x":1062,"x2":1075,"p":93.66,"p2":93.08},{"x":1062,"x2":1073,"p":93.08,"p2":92.77},{"x":1062,"x2":1068,"p":92.77,"p2":92.61},{"x":1062,"x2":1069,"p":92.61,"p2":92.3},{"x":1062,"x2":1067,"p":92.3,"p2":92.14},
{"x":1096,"x2":1102,"p":92.09,"p2":91.9},{"x":1096,"x2":1106,"p":91.51,"p2":91.1},
{"x":1108,"x2":1115,"p":93.13,"p2":92.92},{"x":1108,"x2":1127,"p":92.92,"p2":92.82},{"x":1108,"x2":1117,"p":92.82,"p2":92.46},{"x":1108,"x2":1115,"p":92.46,"p2":91.78},{"x":1108,"x2":1120,"p":91.78,"p2":91.62},{"x":1108,"x2":1122,"p":91.62,"p2":91.41},{"x":1108,"x2":1115,"p":91.41,"p2":91.12},
{"x":1156,"x2":1160,"p":95.15,"p2":94.86},{"x":1156,"x2":1172,"p":94.86,"p2":94.7},{"x":1156,"x2":1165,"p":94.7,"p2":94.6},{"x":1156,"x2":1160,"p":94.6,"p2":94.23},{"x":1156,"x2":1162,"p":94.23,"p2":93.92},{"x":1156,"x2":1160,"p":93.92,"p2":93.19},{"x":1155,"x2":1165,"p":93.19,"p2":92.98},{"x":1155,"x2":1168,"p":92.98,"p2":92.72},{"x":1155,"x2":1162,"p":92.72,"p2":92.56},
{"x":1203,"x2":1210,"p":95.07,"p2":94.81},{"x":1203,"x2":1217,"p":94.81,"p2":94.65},{"x":1203,"x2":1210,"p":94.65,"p2":94.23},{"x":1203,"x2":1215,"p":94.23,"p2":93.76},{"x":1203,"x2":1208,"p":93.76,"p2":93.57},
{"x":1250,"x2":1255,"p":94.6,"p2":94.34},{"x":1250,"x2":1262,"p":94.34,"p2":94.18},{"x":1250,"x2":1258,"p":94.18,"p2":93.82},{"x":1250,"x2":1257,"p":93.82,"p2":93.5},{"x":1247,"x2":1258,"p":93.5,"p2":93.34},{"x":1250,"x2":1253,"p":93.34,"p2":93.03},{"x":1250,"x2":1263,"p":93.03,"p2":92.82},{"x":1250,"x2":1256,"p":92.82,"p2":92.72},
{"x":1297,"x2":1302,"p":93.22,"p2":93.03},{"x":1297,"x2":1305,"p":93.03,"p2":92.87},{"x":1297,"x2":1312,"p":92.87,"p2":92.77},{"x":1297,"x2":1310,"p":92.77,"p2":92.46},{"x":1297,"x2":1305,"p":92.46,"p2":92.19},{"x":1296,"x2":1303,"p":92.19,"p2":92.08},{"x":1330,"x2":1336,"p":92.63,"p2":92.12},
{"x":1342,"x2":1350,"p":92.79,"p2":92.35},{"x":1342,"x2":1355,"p":92.35,"p2":92.19},{"x":1342,"x2":1362,"p":92.19,"p2":92.04},{"x":1342,"x2":1350,"p":92.04,"p2":91.78},{"x":1342,"x2":1360,"p":91.78,"p2":91.62},{"x":1342,"x2":1348,"p":91.62,"p2":91.22},
{"x":1389,"x2":1394,"p":92.9,"p2":92.66},{"x":1389,"x2":1400,"p":92.66,"p2":92.51},{"x":1389,"x2":1410,"p":92.51,"p2":92.3},{"x":1389,"x2":1408,"p":92.3,"p2":92.14},{"x":1389,"x2":1407,"p":92.14,"p2":91.98},{"x":1389,"x2":1398,"p":91.98,"p2":91.78},{"x":1389,"x2":1392,"p":91.78,"p2":91.59},
{"x":1436,"x2":1440,"p":94.11,"p2":93.76},{"x":1436,"x2":1447,"p":93.76,"p2":93.64},{"x":1436,"x2":1440,"p":93.64,"p2":93.19},{"x":1436,"x2":1441,"p":93.19,"p2":92.77},{"x":1436,"x2":1442,"p":92.77,"p2":92.51},{"x":1436,"x2":1450,"p":92.51,"p2":92.04},{"x":1436,"x2":1443,"p":92.04,"p2":91.9},
{"x":1483,"x2":1490,"p":94.32,"p2":94.02},{"x":1483,"x2":1495,"p":94.02,"p2":93.55},{"x":1483,"x2":1500,"p":93.55,"p2":93.4},{"x":1483,"x2":1502,"p":93.4,"p2":93.19},{"x":1483,"x2":1497,"p":93.19,"p2":93.03},{"x":1483,"x2":1490,"p":93.03,"p2":92.8},
{"x":1530,"x2":1536,"p":94.6,"p2":94.23},{"x":1530,"x2":1538,"p":94.23,"p2":93.92},{"x":1530,"x2":1542,"p":93.92,"p2":93.66},{"x":1530,"x2":1543,"p":93.66,"p2":93.5},{"x":1530,"x2":1540,"p":93.5,"p2":93.08},{"x":1530,"x2":1535,"p":93.08,"p2":92.98},
{"x":1564,"x2":1585,"p":93.78,"p2":93.55},
{"x":1577,"x2":1582,"p":95.51,"p2":95.18},{"x":1577,"x2":1586,"p":95.18,"p2":94.97},{"x":1577,"x2":1587,"p":94.97,"p2":94.76},{"x":1577,"x2":1583,"p":94.76,"p2":94.13},{"x":1577,"x2":1585,"p":94.13,"p2":93.82},{"x":1577,"x2":1590,"p":93.82,"p2":93.5},{"x":1577,"x2":1584,"p":93.5,"p2":93.38},
{"x":1623,"x2":1633,"p":95.35,"p2":95.1}],
"pocs":[{"x":45,"p":97.19,"b":97.28,"p2":97.1},{"x":91,"p":97.39,"b":97.48,"p2":97.3},{"x":175,"p":95.91,"b":96.0,"p2":95.82},{"x":233,"p":94.84,"b":94.93,"p2":94.75},{"x":283,"p":93.57,"b":93.66,"p2":93.48},{"x":327,"p":94.06,"b":94.15,"p2":93.97},{"x":373,"p":94.52,"b":94.61,"p2":94.43},{"x":407,"p":94.18,"b":94.27,"p2":94.09},{"x":462,"p":94.13,"b":94.22,"p2":94.04},{"x":509,"p":94.46,"b":94.55,"p2":94.37},{"x":556,"p":94.31,"b":94.4,"p2":94.22},{"x":604,"p":95.3,"b":95.39,"p2":95.21},{"x":648,"p":96.24,"b":96.33,"p2":96.15},{"x":688,"p":96.22,"b":96.31,"p2":96.13},{"x":735,"p":93.57,"b":93.66,"p2":93.48},{"x":781,"p":95.47,"b":95.56,"p2":95.38},{"x":828,"p":94.74,"b":94.83,"p2":94.65},{"x":863,"p":93.84,"b":93.93,"p2":93.75},{"x":920,"p":93.16,"b":93.25,"p2":93.07},{"x":968,"p":93.13,"b":93.22,"p2":93.04},{"x":1015,"p":91.99,"b":92.08,"p2":91.9},{"x":1062,"p":93.01,"b":93.1,"p2":92.92},{"x":1097,"p":92.35,"b":92.44,"p2":92.26},{"x":1250,"p":93.61,"b":93.7,"p2":93.52},{"x":1335,"p":92.59,"b":92.68,"p2":92.5},{"x":1342,"p":92.12,"b":92.21,"p2":92.03},{"x":1389,"p":92.04,"b":92.13,"p2":91.95},{"x":1483,"p":93.45,"b":93.54,"p2":93.36},{"x":1530,"p":93.26,"b":93.35,"p2":93.17},{"x":1565,"p":93.78,"b":93.87,"p2":93.69},{"x":1577,"p":93.57,"b":93.66,"p2":93.48},{"x":1625,"p":95.3,"b":95.39,"p2":95.21}],
"ticks":[{"x":99,"x2":103,"p":97.55,"d":"R"},{"x":143,"x2":154,"p":97.47,"d":"B"},{"x":111,"x2":117,"p":97.47,"d":"B"},{"x":3,"x2":20,"p":98.02,"d":"B"},{"x":5,"x2":13,"p":97.89,"d":"R"},{"x":3,"x2":7,"p":98.26,"d":"R"},{"x":188,"x2":193,"p":95.77,"d":"R"},{"x":221,"x2":225,"p":95.79,"d":"R"},{"x":221,"x2":230,"p":95.75,"d":"B"},{"x":221,"x2":226,"p":95.71,"d":"R"},{"x":234,"x2":241,"p":95.28,"d":"R"},{"x":281,"x2":284,"p":94.86,"d":"R"},{"x":237,"x2":245,"p":94.8,"d":"B"},{"x":195,"x2":198,"p":95.2,"d":"B"},{"x":287,"x2":296,"p":93.7,"d":"B"},{"x":332,"x2":337,"p":94.29,"d":"R"},{"x":336,"x2":346,"p":93.97,"d":"B"},{"x":378,"x2":388,"p":94.6,"d":"B"},{"x":422,"x2":427,"p":94.55,"d":"R"},{"x":428,"x2":439,"p":94.35,"d":"B"},{"x":455,"x2":458,"p":94.23,"d":"R"},{"x":464,"x2":473,"p":93.93,"d":"R"},{"x":516,"x2":530,"p":94.25,"d":"B"},{"x":515,"x2":519,"p":94.18,"d":"R"},{"x":518,"x2":524,"p":94.58,"d":"R"},{"x":561,"x2":571,"p":94.4,"d":"B"},{"x":652,"x2":660,"p":95.56,"d":"B"},{"x":652,"x2":656,"p":95.39,"d":"R"},{"x":605,"x2":614,"p":95.27,"d":"R"},{"x":605,"x2":619,"p":95.11,"d":"B"},{"x":698,"x2":709,"p":96.16,"d":"R"},{"x":698,"x2":713,"p":96.32,"d":"B"},{"x":736,"x2":741,"p":95.35,"d":"R"},{"x":605,"x2":609,"p":94.59,"d":"R"},{"x":783,"x2":788,"p":94.38,"d":"R"},{"x":830,"x2":840,"p":95.41,"d":"R"},{"x":877,"x2":886,"p":94.89,"d":"B"},{"x":835,"x2":844,"p":94.96,"d":"B"},{"x":877,"x2":884,"p":93.9,"d":"R"},{"x":742,"x2":748,"p":93.67,"d":"B"},{"x":910,"x2":914,"p":93.82,"d":"R"},{"x":910,"x2":917,"p":93.62,"d":"B"},{"x":970,"x2":979,"p":93.55,"d":"R"},{"x":971,"x2":990,"p":93.23,"d":"B"},{"x":1023,"x2":1035,"p":91.99,"d":"B"},{"x":1017,"x2":1021,"p":92.84,"d":"R"},{"x":1064,"x2":1068,"p":91.62,"d":"R"},{"x":1111,"x2":1117,"p":93.68,"d":"R"},{"x":1111,"x2":1122,"p":93.2,"d":"B"},{"x":1157,"x2":1168,"p":91.69,"d":"R"},{"x":1144,"x2":1154,"p":91.34,"d":"B"},{"x":1251,"x2":1258,"p":94.92,"d":"R"},{"x":1298,"x2":1305,"p":94.12,"d":"R"},{"x":1254,"x2":1266,"p":94.77,"d":"B"},{"x":1204,"x2":1208,"p":93.04,"d":"R"},{"x":1302,"x2":1310,"p":92.96,"d":"B"},{"x":1345,"x2":1359,"p":92.92,"d":"R"},{"x":1345,"x2":1360,"p":92.83,"d":"B"},{"x":1350,"x2":1357,"p":92.48,"d":"R"},{"x":1378,"x2":1381,"p":92.55,"d":"R"},{"x":1378,"x2":1383,"p":92.46,"d":"B"},{"x":1378,"x2":1382,"p":92.31,"d":"R"},{"x":1393,"x2":1407,"p":91.78,"d":"R"},{"x":1442,"x2":1450,"p":92.1,"d":"R"},{"x":1625,"x2":1636,"p":93.9,"d":"R"},{"x":1625,"x2":1636,"p":94.98,"d":"B"},{"x":1487,"x2":1500,"p":92.48,"d":"B"},{"x":1532,"x2":1548,"p":93.51,"d":"B"},{"x":1485,"x2":1487,"p":91.99,"d":"R"},{"x":1610,"x2":1617,"p":93.75,"d":"R"},{"x":1610,"x2":1620,"p":93.67,"d":"B"},{"x":1612,"x2":1619,"p":93.64,"d":"R"}],
"fibs":[{"x":582,"x2":1635,"p":97.92,"t":"1.27"},{"x":582,"x2":1635,"p":97.144,"t":"113 (97.144)"},{"x":582,"x2":1635,"p":96.407,"t":"100.0 (96.407)"},{"x":582,"x2":1635,"p":95.761,"t":"88.6 (95.761)"},{"x":582,"x2":1635,"p":95.194,"t":"78.6 (95.194)"},{"x":582,"x2":1635,"p":94.746,"t":"70.7 (94.746)"},{"x":582,"x2":1635,"p":94.242,"t":"61.8 (94.242)"},{"x":582,"x2":1635,"p":93.573,"t":"50.0 (93.573)"},{"x":582,"x2":1635,"p":93.273,"t":"44.7"},{"x":582,"x2":1635,"p":92.904,"t":"38.2 (92.904)"},{"x":582,"x2":1635,"p":92.077,"t":"23.6 (92.077)"},{"x":582,"x2":1635,"p":90.739,"t":"0.0 (90.739)"},{"x":1184,"x2":1635,"p":97.604,"t":"161.8 (97.604)"},{"x":1184,"x2":1635,"p":96.808,"t":"141.4 (96.808)"},{"x":1184,"x2":1635,"p":95.7,"t":"113 (95.700)"},{"x":1184,"x2":1635,"p":95.192,"t":"100.0 (95.192)"},{"x":1184,"x2":1635,"p":94.748,"t":"88.6 (94.748)"},{"x":1184,"x2":1635,"p":94.358,"t":"78.6 (94.358)"},{"x":1184,"x2":1635,"p":94.05,"t":"70.7 (94.050)"},{"x":1184,"x2":1635,"p":93.703,"t":"61.8 (93.703)"},{"x":1184,"x2":1635,"p":93.243,"t":"50.0 (93.243)"},{"x":1184,"x2":1635,"p":93.035,"t":"44.7"},{"x":1184,"x2":1635,"p":92.782,"t":"38.2 (92.782)"},{"x":1184,"x2":1635,"p":92.213,"t":"23.6 (92.213)"},{"x":1184,"x2":1635,"p":91.292,"t":"0.0 (91.292)"}],
"levels":[{"x":3,"x2":1636,"p":98.009},{"x":3,"x2":1636,"p":97.466},{"x":3,"x2":1636,"p":94.759},{"x":3,"x2":1636,"p":92.479}],
"trends":[{"id":"a","x":632,"p":96.6},{"id":"a","x":1616,"p":93.84},{"id":"b","x":1029,"p":90.68},{"id":"b","x":1636,"p":91.94}],
"diag":[{"id":"a","x":582,"p":96.407},{"id":"a","x":655.7,"p":93.573},{"id":"a","x":729,"p":90.739},{"id":"b","x":1184,"p":95.192},{"id":"b","x":1249,"p":91.292}],
"diagPts":[{"x":582,"p":96.407},{"x":655.7,"p":93.573},{"x":729,"p":90.739}],
"diag2":[{"x":1603,"p":93.94},{"x":1637,"p":94.62}],
"tags":[{"x":1638,"x2":1674,"p":98.08,"p2":97.94,"t":"98.009","y0":98.009,"k":"P"},{"x":1638,"x2":1674,"p":97.54,"p2":97.39,"t":"97.466","y0":97.466,"k":"P"},{"x":1638,"x2":1674,"p":94.83,"p2":94.69,"t":"94.759","y0":94.759,"k":"P"},{"x":1638,"x2":1674,"p":92.55,"p2":92.41,"t":"92.479","y0":92.479,"k":"P"},{"x":1638,"x2":1674,"p":95.4,"p2":95.25,"t":"95.326","y0":95.326,"k":"K"}],
"notes":[{"x":17,"p":98.2,"t":"WTICOUSD,M30  95.309 95.404 95.296 95.326"},{"x":7.5,"p":97.944,"t":"Market Profile"},{"x":7.5,"p":97.693,"t":"By : Nikko36"},{"x":7,"p":90.583,"t":"OANDA - MT4, © 2001-2014, MetaQuotes Software Corp."}]
},
"encoding":{
"x":{"field":"x","type":"quantitative","scale":{"domain":[2.5,1636],"nice":false,"zero":false},"axis":{"title":null,"grid":false,"domain":false,"values":[3,67,131,195,259,323,387,451,515,579,643,707,771,835,899,963,1027,1091,1155,1219,1283,1347,1411,1475,1539,1603],"labelExpr":"['12 Aug 2014','13 Aug 10:00','14 Aug 19:00','18 Aug 04:00','19 Aug 12:30','20 Aug 21:30','22 Aug 06:00','25 Aug 17:00','27 Aug 02:00','28 Aug 10:30','31 Aug 20:00','2 Sep 09:00','3 Sep 18:00','5 Sep 02:30','8 Sep 11:30','9 Sep 20:30','11 Sep 05:00','12 Sep 13:30','15 Sep 23:00','17 Sep 07:30','18 Sep 16:00','22 Sep 01:30','23 Sep 10:00','24 Sep 19:00','26 Sep 03:30','29 Sep 12:30'][(datum.value-3)/64]","labelAlign":"left","labelBaseline":"top","labelOverlap":false,"labelBound":false,"labelFlush":false,"tickSize":3,"tickColor":"#000000","labelPadding":2,"labelColor":"#000000","labelFont":"Roboto","labelFontSize":10}},
"y":{"field":"p","type":"quantitative","scale":{"domain":[90.502,98.292],"nice":false,"zero":false},"axis":{"orient":"right","title":null,"grid":false,"domain":false,"values":[98.13,97.78,97.44,97.09,96.75,96.4,96.06,95.71,95.37,95.02,94.68,94.33,93.99,93.64,93.3,92.95,92.61,92.26,91.92,91.57,91.23,90.88,90.54],"format":".3f","labelOverlap":false,"labelBound":false,"labelFlush":false,"tickSize":3,"tickColor":"#000000","labelPadding":3,"labelColor":"#000000","labelFont":"Roboto","labelFontSize":10}}
},
"layer":[
{"data":{"name":"zones"},"mark":{"type":"rect","color":"#3cb371"},"encoding":{"x2":{"field":"x2"},"y2":{"field":"p2"}}},
{"data":{"name":"candles"},"mark":{"type":"rule","strokeWidth":2},"encoding":{"y2":{"field":"p2"},"color":{"field":"d","type":"nominal","legend":null,"scale":{"domain":["P","T","R","B"],"range":["#800080","#008080","#ff0000","#0000ff"]}}}},
{"data":{"name":"profile"},"mark":{"type":"rect","color":"#b5b5b5","stroke":"#d6cfc8","strokeWidth":1,"opacity":0.9},"encoding":{"x2":{"field":"x2"},"y2":{"field":"p2"}}},
{"data":{"name":"profile"},"mark":{"type":"rule","color":"#dedbd8","strokeWidth":2,"strokeDash":[1.5,2],"xOffset":2.5},"encoding":{"y2":{"field":"p2"}}},
{"data":{"name":"profile"},"mark":{"type":"rule","color":"#cfccc9","strokeWidth":1.5,"strokeDash":[1.5,2.5],"xOffset":-2},"encoding":{"x":{"field":"x2","type":"quantitative"},"y2":{"field":"p2"}}},
{"data":{"name":"pocs"},"mark":{"type":"rule","color":"#4682b4","strokeWidth":3,"xOffset":1},"encoding":{"y":{"field":"b","type":"quantitative"},"y2":{"field":"p2"}}},
{"data":{"name":"pocs"},"mark":{"type":"point","shape":"circle","filled":false,"stroke":"#b9cde2","strokeWidth":2,"size":130},"encoding":{}},
{"data":{"name":"ticks"},"mark":{"type":"rule","strokeWidth":1.5},"encoding":{"x2":{"field":"x2"},"color":{"field":"d","type":"nominal","legend":null,"scale":{"domain":["P","T","R","B"],"range":["#800080","#008080","#ff0000","#0000ff"]}}}},
{"data":{"name":"levels"},"mark":{"type":"rule","color":"#800080","strokeWidth":1,"strokeDash":[4,3]},"encoding":{"x2":{"field":"x2"}}},
{"data":{"values":[{"x":3,"x2":1636,"p":95.326}]},"mark":{"type":"rule","color":"#808890","strokeWidth":1},"encoding":{"x2":{"field":"x2"}}},
{"data":{"name":"fibs"},"mark":{"type":"rule","color":"#000080","strokeWidth":1},"encoding":{"x2":{"field":"x2"}}},
{"data":{"name":"diag"},"mark":{"type":"line","color":"#800080","strokeWidth":1},"encoding":{"detail":{"field":"id"},"order":{"field":"x"}}},
{"data":{"name":"diagPts"},"mark":{"type":"point","shape":"square","filled":true,"fill":"#f5f5f5","stroke":"#800080","strokeWidth":1,"size":16,"opacity":1},"encoding":{}},
{"data":{"name":"diag2"},"mark":{"type":"line","color":"#000080","strokeWidth":1},"encoding":{}},
{"data":{"values":[{"x":1603,"p":93.94}]},"mark":{"type":"point","shape":"square","filled":true,"fill":"#f5f5f5","stroke":"#000080","strokeWidth":1,"size":16,"opacity":1},"encoding":{}},
{"data":{"name":"trends"},"mark":{"type":"line","color":"#000080","strokeWidth":2.5},"encoding":{"detail":{"field":"id"}}},
{"data":{"name":"fibs"},"mark":{"type":"text","align":"right","baseline":"middle","dy":-6,"color":"#000080","font":"Roboto","fontSize":10},"encoding":{"x":{"field":"x2","type":"quantitative"},"text":{"field":"t"}}},
{"data":{"name":"notes"},"mark":{"type":"text","align":"left","baseline":"middle","color":"#000000","font":"Roboto","fontSize":10.5},"encoding":{"text":{"field":"t"}}},
{"data":{"values":[{"x":10,"p":98.2}]},"mark":{"type":"point","shape":"triangle-down","filled":true,"color":"#000000","size":30},"encoding":{}},
{"data":{"values":[{"x":1633,"p":95.3}]},"mark":{"type":"point","shape":"cross","filled":false,"stroke":"#ff40ff","strokeWidth":1,"size":60},"encoding":{}},
{"data":{"name":"tags"},"mark":{"type":"rect"},"encoding":{"x2":{"field":"x2"},"y2":{"field":"p2"},"fill":{"field":"k","type":"nominal","legend":null,"scale":{"domain":["P","K"],"range":["#800080","#000000"]}}}},
{"data":{"name":"tags"},"mark":{"type":"text","align":"center","baseline":"middle","color":"#f0f0f0","font":"Roboto","fontSize":10},"encoding":{"x":{"datum":1656,"type":"quantitative"},"y":{"field":"y0","type":"quantitative"},"text":{"field":"t"}}}
]}
